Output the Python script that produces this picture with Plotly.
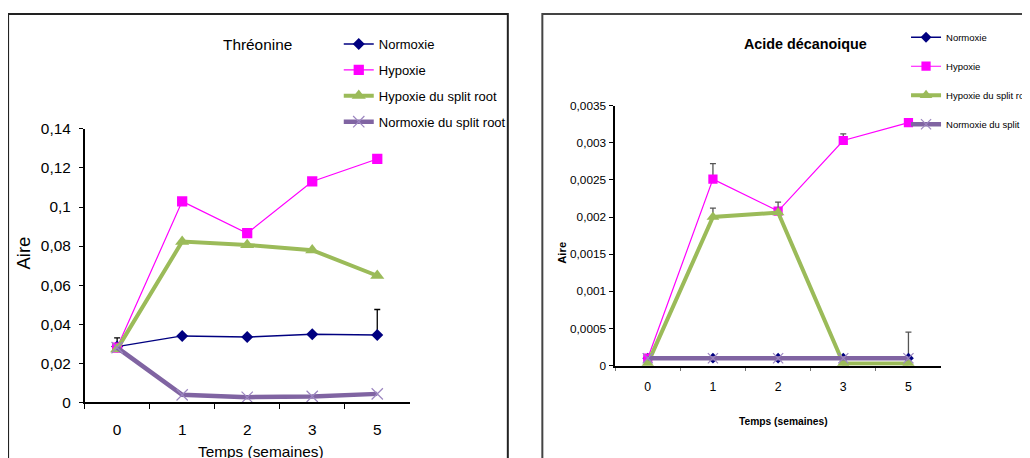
import plotly.graph_objects as go

# Measured photograph transform of this page (per axis): image = S * page + offset
SX, BX = 0.983, 1.4
SY, CY = 0.965, 7.8
AX, AB = 1.0168, -2.0     # residual horizontal correction measured on the photo
BODY_MARGIN = 8
W, H = 1056, 456          # figure size in page pixels
K = 1 / 0.975             # size compensation

# ---------------- data ----------------
weeks = ["0", "1", "2", "3", "5"]
series_names = ["Normoxie", "Hypoxie", "Hypoxie du split root", "Normoxie du split root"]

# Thréonine
thr_normoxie = [0.0285, 0.0340, 0.0334, 0.0348, 0.0345]
thr_hypoxie = [0.0280, 0.1029, 0.0866, 0.1131, 0.1246]
thr_hyp_split = [0.0272, 0.0823, 0.0806, 0.0779, 0.0648]
thr_norm_split = [0.0280, 0.0038, 0.0026, 0.0030, 0.0043]
thr_normoxie_err = [0.0045, None, None, None, 0.0130]

# Acide décanoique
dec_normoxie = [0.0001, 0.0001, 0.0001, 0.0001, 0.0001]
dec_hypoxie = [0.0001, 0.00251, 0.00208, 0.00303, 0.00327]
dec_hyp_split = [0.00003, 0.00200, 0.00206, 0.00003, 0.00003]
dec_norm_split = [0.0001, 0.0001, 0.0001, 0.0001, 0.0001]
dec_normoxie_err = [None, None, None, None, 0.00035]
dec_hypoxie_err = [None, 0.00021, None, 0.00009, None]
dec_hyp_split_err = [None, 0.00012, 0.00014, None, None]

thr_yticks = [0, 0.02, 0.04, 0.06, 0.08, 0.10, 0.12, 0.14]
thr_yticklabels = ["0", "0,02", "0,04", "0,06", "0,08", "0,1", "0,12", "0,14"]
dec_yticks = [0, 0.0005, 0.001, 0.0015, 0.002, 0.0025, 0.003, 0.0035]
dec_yticklabels = ["0", "0,0005", "0,001", "0,0015", "0,002", "0,0025", "0,003", "0,0035"]

# ---------------- styles ----------------
SANS = "Liberation Sans, Arial"
C_NAVY = "#000080"
C_MAG = "#FF00FF"
C_GREEN = "#9BBB59"
C_PURPLE = "#8064A2"


def fx(ix):
    # target image x -> figure pixel x
    ix = (ix - AB) / AX
    return (ix - BX) / SX - BODY_MARGIN


def fy(iy):
    return (iy - CY) / SY - BODY_MARGIN


def px(ix):
    return fx(ix) / W


def py(iy):
    return (H - fy(iy)) / H


def fs(v):
    return v * K


fig = go.Figure()


def err(arr, color):
    return dict(type="data", symmetric=False, array=arr,
                arrayminus=[0 if v is not None else None for v in arr],
                color=color, thickness=1.3, width=3)


def add_set(xa, ya, leg, vals, errs, scale, ecolor):
    n, h, g, p = vals
    en, eh, eg = errs
    fig.add_trace(go.Scatter(
        x=weeks, y=n, name=series_names[0], xaxis=xa, yaxis=ya, legend=leg,
        legendgroup=leg + "a", mode="lines+markers",
        line=dict(color=C_NAVY, width=1.5),
        marker=dict(symbol="diamond", size=fs(9 * scale), color=C_NAVY),
        error_y=err(en, ecolor) if en else None))
    fig.add_trace(go.Scatter(
        x=weeks, y=h, name=series_names[1], xaxis=xa, yaxis=ya, legend=leg,
        legendgroup=leg + "b", mode="lines+markers",
        line=dict(color=C_MAG, width=1.2),
        marker=dict(symbol="square", size=fs(10 * scale), color=C_MAG),
        error_y=err(eh, ecolor) if eh else None))
    fig.add_trace(go.Scatter(
        x=weeks, y=g, name=series_names[2], xaxis=xa, yaxis=ya, legend=leg,
        legendgroup=leg + "c", mode="lines+markers",
        line=dict(color=C_GREEN, width=4),
        marker=dict(symbol="triangle-up", size=fs(12 * scale), color=C_GREEN),
        error_y=err(eg, ecolor) if eg else None))
    fig.add_trace(go.Scatter(
        x=weeks, y=p, name=series_names[3], xaxis=xa, yaxis=ya, legend=leg,
        legendgroup=leg + "d", mode="lines+markers",
        line=dict(color=C_PURPLE, width=4.5),
        marker=dict(symbol="x-thin-open", size=fs(11 * scale), color="#9c86c0",
                    line=dict(width=1.2, color="#9c86c0"))))


add_set("x", "y", "legend",
        (thr_normoxie, thr_hypoxie, thr_hyp_split, thr_norm_split),
        (thr_normoxie_err, None, None), 1.0, "#000000")
add_set("x2", "y2", "legend2",
        (dec_normoxie, dec_hypoxie, dec_hyp_split, dec_norm_split),
        (dec_normoxie_err, dec_hypoxie_err, dec_hyp_split_err), 0.9, "#555555")

xcommon = dict(type="category", range=[-0.5, 4.5], showgrid=False, zeroline=False,
               showline=True, linecolor="black", linewidth=2, ticks="outside",
               tickson="boundaries", tickcolor="black", fixedrange=True)
ycommon = dict(showgrid=False, zeroline=False, showline=True, linecolor="black",
               linewidth=1.5, ticks="outside", tickcolor="black", ticklen=4,
               fixedrange=True)


def ann(text, x, y, size, angle=0):
    return dict(text=text, x=px(x), y=py(y), xref="paper", yref="paper",
                xanchor="center", yanchor="middle", showarrow=False,
                textangle=angle, font=dict(family=SANS, size=fs(size), color="black"))


fig.update_layout(
    width=W, height=H,
    margin=dict(l=0, r=0, t=0, b=0),
    paper_bgcolor="white", plot_bgcolor="white",
    showlegend=True,
    xaxis=dict(xcommon, domain=[px(84), px(409)], anchor="y", ticklen=5,
               tickwidth=1, tickfont=dict(family=SANS, size=fs(15), color="black"),
               ticklabelstandoff=12),
    yaxis=dict(ycommon, domain=[py(401.7), py(127.7)], anchor="x", range=[0, 0.14],
               tickvals=thr_yticks, ticktext=thr_yticklabels,
               tickfont=dict(family=SANS, size=fs(15), color="black"),
               ticklabelstandoff=5),
    xaxis2=dict(xcommon, domain=[px(614.3), px(940)], anchor="y2", ticklen=3,
                tickwidth=1, tickcolor="#777",
                tickfont=dict(family=SANS, size=fs(12), color="black"),
                ticklabelstandoff=9),
    yaxis2=dict(ycommon, domain=[py(365), py(104.3)], anchor="x2", range=[0, 0.0035],
                tickvals=dec_yticks, ticktext=dec_yticklabels,
                tickfont=dict(family=SANS, size=fs(11.5), color="black"),
                ticklabelstandoff=1),
    legend=dict(x=px(378) - 40 / W, y=py(43) + 16 / H, xanchor="left", yanchor="top",
                font=dict(family=SANS, size=13, color="black"),
                bgcolor="rgba(0,0,0,0)", traceorder="grouped", tracegroupgap=6,
                itemclick=False),
    legend2=dict(x=px(945) - 40 / W, y=py(36.7) + 16 / H, xanchor="left",
                 yanchor="top",
                 font=dict(family=SANS, size=9.5, color="black"),
                 bgcolor="rgba(0,0,0,0)", traceorder="grouped", tracegroupgap=10,
                 itemclick=False),
    shapes=[
        dict(type="rect", xref="paper", yref="paper", x0=px(7.5), x1=px(507),
             y0=py(480), y1=py(12.5), line=dict(color="#222", width=2),
             fillcolor="rgba(0,0,0,0)", layer="below"),
        dict(type="rect", xref="paper", yref="paper", x0=px(541.5), x1=px(1080),
             y0=py(480), y1=py(12.5), line=dict(color="#444", width=2),
             fillcolor="rgba(0,0,0,0)", layer="below"),
    ],
    annotations=[
        ann("Thréonine", 257, 43, 15),
        ann("<b>Acide décanoique</b>", 805, 43, 14),
        ann("Temps (semaines)", 260, 451, 15),
        ann("Aire", 23, 252, 18, -90),
        ann("<b>Temps (semaines)</b>", 783, 421, 10),
        ann("<b>Aire</b>", 561, 252, 11, -90),
    ],
)

fig.write_html("out.html", config={"displayModeBar": False})
